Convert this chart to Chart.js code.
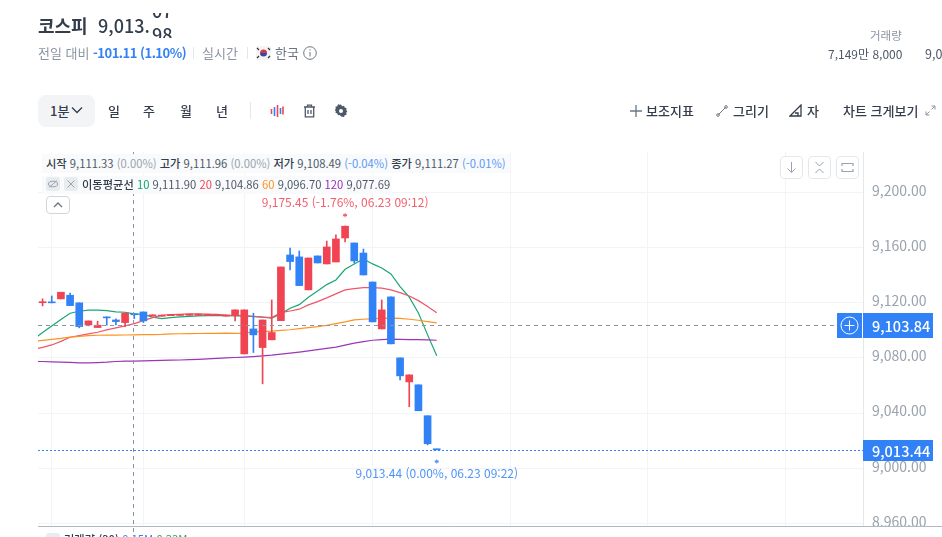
<!DOCTYPE html>
<html lang="ko">
<head>
<meta charset="utf-8">
<title>코스피</title>
<script src="https://cdn.jsdelivr.net/npm/chart.js@4"></script>
<style>
  html, body { margin: 0; padding: 0; background: #fff; }
  body { width: 942px; height: 537px; overflow: hidden; position: relative; font-family: "Noto Sans CJK KR", "Noto Sans", sans-serif; color: #333d4b; }
  canvas { position: absolute; left: 0; top: 0; }
  .t { position: absolute; white-space: nowrap; line-height: 1; }
  .box { position: absolute; box-sizing: border-box; }
  .gray { color: #8b95a1; }
  .blue { color: #3182f6; }
  .lg { font-size: 11.25px; color: #4e5968; }
  .lg i { font-style: normal; color: #9aa3ad; }
  .lg b { font-weight: 500; color: #333d4b; }
  .bar { position: absolute; background: #e5e8eb; width: 1px; }
  .tool { font-size: 13px; font-weight: 500; color: #333d4b; }
  svg { position: absolute; }
</style>
</head>
<body>
<canvas id="chart" width="942" height="570"></canvas>

<span class="t" style="left:38px;top:16px;font-size:18px;font-weight:700;">코스피</span>
<span class="t" style="left:98px;top:16px;font-size:18px;font-weight:500;">9,013.</span>
<div class="box" style="left:151px;top:13px;width:24px;height:25px;overflow:hidden;font-size:18px;font-weight:500;">
  <span class="t" style="left:1px;top:-12px;">07</span>
  <span class="t" style="left:1px;top:12px;">98</span>
</div>

<span class="t gray" style="left:38px;top:46px;font-size:13px;">전일 대비</span>
<span class="t blue" style="left:93px;top:46px;font-size:13px;font-weight:600;letter-spacing:-0.5px;">-101.11 (1.10%)</span>
<div class="bar" style="left:193px;top:47px;height:12px;"></div>
<span class="t gray" style="left:202px;top:46px;font-size:13px;">실시간</span>
<div class="bar" style="left:247px;top:47px;height:12px;"></div>
<svg style="left:256px;top:46px" width="15" height="14" viewBox="0 0 15 14">
  <rect width="15" height="14" fill="#f4f4f4" rx="2"/>
  <path d="M4 7a3.5 3.5 0 0 1 7 0z" fill="#e03048"/><path d="M4 7a3.5 3.5 0 0 0 7 0z" fill="#2a4fa0"/>
  <path d="M1 2l2 2M12 2l2 2M1 12l2-2M12 12l2-2" stroke="#333" stroke-width="1.2"/>
</svg>
<span class="t gray" style="left:275px;top:46px;font-size:13px;color:#6b7684;">한국</span>
<svg style="left:303px;top:46px" width="14" height="14" viewBox="0 0 14 14" fill="none" stroke="#6b7684">
  <circle cx="7" cy="7" r="6.3"/><path d="M7 6v4.5M7 3.4v1.2"/>
</svg>

<span class="t gray" style="left:870px;top:30px;font-size:11.5px;">거래량</span>
<span class="t" style="left:828px;top:48px;font-size:12px;color:#4e5968;">7,149만 8,000</span>
<span class="t" style="left:925px;top:48px;font-size:12.5px;color:#4e5968;">9,0</span>

<div class="box" style="left:38px;top:95px;width:57px;height:32px;background:#f2f4f6;border-radius:8px;"></div>
<span class="t tool" style="left:50px;top:104px;">1분</span>
<svg style="left:71px;top:106px" width="12" height="8" viewBox="0 0 12 8" fill="none" stroke="#333d4b" stroke-width="1.3"><path d="M1 1.5l5 5 5-5"/></svg>
<span class="t tool" style="left:108px;top:104px;">일</span>
<span class="t tool" style="left:143px;top:104px;">주</span>
<span class="t tool" style="left:180px;top:104px;">월</span>
<span class="t tool" style="left:216px;top:104px;">년</span>
<div class="bar" style="left:250px;top:102px;height:17px;"></div>
<svg style="left:270px;top:104px" width="14" height="14" viewBox="0 0 14 14" stroke-width="1.6" fill="none">
  <path d="M1.5 5v5" stroke="#f04452"/><path d="M4.5 3v9" stroke="#3182f6"/><path d="M7.5 1v12" stroke="#f04452"/><path d="M10.500 4v6" stroke="#3182f6"/><path d="M13 2.500v8" stroke="#f04452"/>
</svg>
<svg style="left:303px;top:104px" width="13" height="14" viewBox="0 0 13 14" fill="none" stroke="#4e5968" stroke-width="1.3">
  <path d="M1 3h11M4.5 3V1.2h4V3M2.3 3v9.8h8.4V3M5 6v4M8 6v4"/>
</svg>
<svg style="left:334px;top:104px" width="14" height="14" viewBox="0 0 14 14">
  <path d="M7 .6l1.2 1.7 2-.4.8 1.9 2 .7-.4 2 1.2 1.5-1.2 1.5.4 2-2 .7-.8 1.9-2-.4L7 13.4l-1.200-1.700-2 .4-.8-1.900-2-.7.4-2L.2 6.500l1.200-1.500-.4-2 2-.7.800-1.900 2 .4z" fill="#4e5968" transform="translate(0.5 0) scale(.93)"/>
  <circle cx="7" cy="7" r="2" fill="#fff"/>
</svg>

<svg style="left:630px;top:105px" width="12" height="12" viewBox="0 0 12 12" stroke="#6b7684" stroke-width="1.3"><path d="M6 0v12M0 6h12"/></svg>
<span class="t tool" style="left:646px;top:104px;">보조지표</span>
<svg style="left:716px;top:105px" width="12" height="12" viewBox="0 0 12 12" fill="none" stroke="#6b7684"><path d="M2.500 9.500l7-7"/><circle cx="2" cy="10" r="1.300"/><circle cx="10" cy="2" r="1.300"/></svg>
<span class="t tool" style="left:733px;top:104px;">그리기</span>
<svg style="left:789px;top:104px" width="14" height="13" viewBox="0 0 14 13" fill="none" stroke="#333d4b" stroke-width="1.300"><path d="M1 12L12 1v11zM9 12V9h-3"/></svg>
<span class="t tool" style="left:807px;top:104px;">자</span>
<span class="t tool" style="left:843px;top:104px;">차트 크게보기</span>
<svg style="left:925px;top:105px" width="11" height="11" viewBox="0 0 11 11" fill="none" stroke="#8b95a1"><path d="M6.500 1h3.500v3.500M10 1L6.500 4.500M4.500 10H1V6.500M1 10l3.500-3.500"/></svg>

<div class="box" style="left:42px;top:154px;width:468px;height:19px;background:#f9fafb;"></div>
<span class="t lg" style="left:46px;top:158px;"><b>시작</b> 9,111.33 <i>(0.00%)</i> <b>고가</b> 9,111.96 <i>(0.00%)</i> <b>저가</b> 9,108.49 <span class="blue" style="opacity:.8">(-0.04%)</span> <b>종가</b> 9,111.27 <span class="blue" style="opacity:.8">(-0.01%)</span></span>

<div class="box" style="left:42px;top:176px;width:350px;height:18px;background:#f9fafb;"></div>
<div class="box" style="left:46px;top:177px;width:14px;height:14px;background:#e9ecef;border-radius:3px;"></div>
<svg style="left:48px;top:180px" width="10" height="8" viewBox="0 0 10 8" fill="none" stroke="#9aa3ad"><ellipse cx="5" cy="4" rx="4.500" ry="2.800"/><path d="M1 7.500L9 .5"/></svg>
<div class="box" style="left:64px;top:177px;width:14px;height:14px;background:#e9ecef;border-radius:3px;"></div>
<svg style="left:67px;top:180px" width="8" height="8" viewBox="0 0 8 8" stroke="#9aa3ad"><path d="M.5 .5l7 7M7.500 .5l-7 7"/></svg>
<span class="t lg" style="left:82px;top:179px;"><b>이동평균선</b> <span style="color:#10a56d">10</span> 9,111.90 <span style="color:#f04452">20</span> 9,104.86 <span style="color:#ff9320">60</span> 9,096.70 <span style="color:#9c2fb8">120</span> 9,077.69</span>

<div class="box" style="left:46px;top:533px;width:14px;height:14px;background:#e9ecef;border-radius:3px;"></div>
<span class="t lg" style="left:64px;top:534px;"><b>거래량 (20)</b> <span class="blue">0.15M</span> <span style="color:#10a56d">0.33M</span></span>

<div class="box" style="left:46px;top:196px;width:24px;height:18px;border:1px solid #d1d6db;border-radius:4px;background:#fff;"></div>
<svg style="left:53px;top:202px" width="10" height="6" viewBox="0 0 10 6" fill="none" stroke="#6b7684" stroke-width="1.300"><path d="M1 5l4-4 4 4"/></svg>

<div class="box" style="left:780px;top:156px;width:23px;height:23px;border:1px solid #e5e8eb;border-radius:4px;background:#fff;"></div>
<svg style="left:786px;top:161px" width="11" height="13" viewBox="0 0 11 13" fill="none" stroke="#9aa3ad"><path d="M5.500 1v10M1.500 7.500l4 4 4-4"/></svg>
<div class="box" style="left:808px;top:156px;width:23px;height:23px;border:1px solid #e5e8eb;border-radius:4px;background:#fff;"></div>
<svg style="left:814px;top:161px" width="11" height="13" viewBox="0 0 11 13" fill="none" stroke="#9aa3ad"><path d="M1.500 1l4 4 4-4M1.500 12l4-4 4 4"/></svg>
<div class="box" style="left:836px;top:156px;width:23px;height:23px;border:1px solid #e5e8eb;border-radius:4px;background:#fff;"></div>
<svg style="left:841px;top:162px" width="13" height="11" viewBox="0 0 13 11" fill="none" stroke="#9aa3ad" stroke-width="1.200"><path d="M1 4V1.500h11V4M1 7v2.500h11V7"/></svg>

<script>
// one candle per minute, last one is 06.23 09:22
const times = ['15:10','15:11','15:12','15:13','15:14','15:15','15:16','15:17','15:18','15:19','15:20','15:21','15:22','15:23','15:24','15:25','15:26','15:27','15:28','15:29','15:30',
  '09:00','09:01','09:02','09:03','09:04','09:05','09:06','09:07','09:08','09:09','09:10','09:11','09:12','09:13','09:14','09:15','09:16','09:17','09:18','09:19','09:20','09:21','09:22'];

const opens = [9120.0,9120.6,9122.8,9125.4,9119.9,9103.9,9102.0,9109.7,9107.5,9105.6,9111.33,9113.3,9110.4,9110.2,9110.6,9110.8,9110.9,9110.9,9110.7,9110.6,9110.3,
  9110.7,9082.9,9101.0,9087.5,9093.1,9107.0,9154.6,9153.2,9129.3,9153.9,9148.1,9149.5,9166.9,9163.3,9156.0,9135.0,9101.0,9124.2,9080.0,9062.6,9060.5,9038.1,9013.9];
const highs = [9122.8,9124.9,9127.6,9126.9,9119.9,9106.8,9106.6,9109.7,9108.3,9112.4,9111.96,9113.3,9111.2,9111.0,9111.4,9111.6,9111.7,9111.7,9111.5,9111.4,9111.1,
  9114.8,9114.8,9112.4,9107.5,9122.0,9145.9,9159.5,9157.5,9152.4,9153.9,9164.7,9169.1,9175.45,9163.3,9158.9,9135.0,9122.0,9124.2,9080.0,9067.7,9060.5,9038.1,9013.9];
const lows = [9117.7,9119.9,9122.8,9117.9,9101.8,9103.2,9102.0,9103.7,9103.9,9102.7,9108.49,9105.6,9110.4,9110.2,9110.6,9110.8,9110.9,9110.9,9110.7,9110.6,9110.3,
  9106.8,9082.9,9083.9,9061.2,9093.1,9107.0,9143.8,9132.4,9129.3,9148.8,9148.1,9149.5,9164.0,9148.8,9140.1,9106.1,9101.0,9090.2,9064.1,9044.6,9041.7,9017.0,9013.44];
const closes = [9120.6,9119.9,9127.6,9117.9,9102.7,9106.8,9103.7,9109.0,9106.3,9112.4,9111.27,9106.8,9111.2,9111.0,9111.4,9111.6,9111.7,9111.7,9111.5,9111.4,9111.1,
  9114.8,9114.8,9096.7,9107.5,9098.4,9145.9,9149.8,9132.4,9152.4,9148.8,9160.4,9166.2,9175.45,9150.3,9140.1,9106.1,9114.8,9090.2,9067.0,9067.7,9041.7,9017.8,9013.44];

// moving averages start one slot before the first candle, cut off by the left edge
const ma10 = [9093.5,9098.4,9103.2,9107.8,9112.4,9113.8,9114.6,9114.6,9114.3,9113.3,9113.1,9111.9,9111.5,9109.5,9108.5,9109.2,9109.7,9110.1,9110.4,9110.6,9110.7,9110.7,
  9110.4,9110.4,9109.9,9109.5,9108.8,9111.9,9116.0,9118.6,9124.0,9128.5,9133.1,9136.5,9144.2,9148.1,9151.7,9148.1,9145.2,9140.8,9131.6,9124.0,9112.6,9096.7,9081.5];
const ma20 = [9086.2,9087.6,9089.4,9092.0,9095.0,9096.2,9097.4,9098.6,9100.3,9101.7,9103.2,9104.86,9107.0,9109.2,9110.9,9111.4,9111.6,9111.9,9111.9,9111.7,9111.5,9111.1,
  9110.9,9110.6,9110.2,9109.5,9109.2,9112.8,9114.0,9115.3,9118.4,9120.8,9123.5,9126.4,9129.3,9130.2,9130.9,9130.9,9130.5,9129.3,9127.3,9124.9,9121.5,9117.2,9112.8];
const ma60 = [9092.1,9092.7,9093.4,9094.1,9095.0,9095.6,9096.2,9096.4,9096.5,9096.5,9096.6,9096.7,9096.8,9096.9,9097.0,9097.4,9097.5,9097.6,9097.7,9097.8,9097.8,9097.9,
  9097.8,9097.9,9098.9,9099.1,9099.4,9099.9,9100.4,9101.2,9102.0,9102.7,9103.6,9104.9,9106.1,9107.5,9108.0,9108.5,9108.6,9108.8,9108.6,9108.0,9107.3,9106.3,9105.4];
const ma120 = [9077.4,9077.4,9077.1,9076.9,9076.7,9076.4,9076.4,9076.6,9076.9,9077.4,9077.6,9077.69,9077.9,9078.1,9078.2,9078.4,9078.5,9078.7,9079.0,9079.3,9079.7,9080.0,
  9080.3,9080.6,9081.0,9081.5,9082.0,9082.7,9083.4,9084.2,9085.1,9086.0,9086.9,9087.8,9089.2,9090.7,9091.8,9092.8,9093.2,9093.6,9093.4,9093.3,9093.2,9093.1,9092.8];

const yTicks = [8960, 9000, 9040, 9080, 9120, 9160, 9200];
const xGridSlots = [1, 11, 22, 36, 51, 66, 81];

const crosshairSlot = 10;
const crosshairPrice = 9103.84;
const lastPrice = 9013.44;
const highSlot = 33;
const lastSlot = 43;
const highLabel = '9,175.45 (-1.76%, 06.23 09:12)';
const lastLabel = '9,013.44 (0.00%, 06.23 09:22)';

const UP = '#f04452';
const DOWN = '#3182f6';

const money = v => v.toLocaleString('en-US', { minimumFractionDigits: 2, maximumFractionDigits: 2 });
const candleColors = opens.map((o, i) => closes[i] >= o ? UP : DOWN);
const maLine = (values, color) => ({
  type: 'line',
  data: values.map((y, i) => ({ x: i - 1, y: y })),
  borderColor: color,
  borderWidth: 1.2,
  pointRadius: 0,
  tension: 0,
  order: 2
});

// lines and price tags on top of the candles
const overlay = {
  id: 'overlay',
  afterDatasetsDraw(chart) {
    const { ctx, chartArea: area, scales: { x, y } } = chart;
    const hoverY = Math.round(y.getPixelForValue(crosshairPrice)) + 0.5;
    const lastY = Math.round(y.getPixelForValue(lastPrice)) + 0.5;
    const crossX = Math.round(x.getPixelForValue(crosshairSlot)) - 0.5;

    ctx.save();
    // the pane below hides the lower half of the last tick label
    ctx.clearRect(0, area.bottom, chart.width, chart.height - area.bottom);
    ctx.strokeStyle = '#b0b8c1';
    ctx.lineWidth = 1;
    ctx.beginPath();
    ctx.moveTo(area.left, area.bottom + 0.5);
    ctx.lineTo(942, area.bottom + 0.5);
    ctx.stroke();

    ctx.strokeStyle = '#8b95a1';
    ctx.setLineDash([4, 4]);
    ctx.beginPath();
    ctx.moveTo(crossX, area.top);
    ctx.lineTo(crossX, 532);
    ctx.moveTo(area.left, hoverY);
    ctx.lineTo(838, hoverY);
    ctx.stroke();

    ctx.strokeStyle = DOWN;
    ctx.setLineDash([2, 2]);
    ctx.beginPath();
    ctx.moveTo(area.left, lastY);
    ctx.lineTo(area.right, lastY);
    ctx.stroke();
    ctx.setLineDash([]);

    ctx.textAlign = 'center';
    ctx.textBaseline = 'middle';
    ctx.font = '12px "Noto Sans CJK KR", "Noto Sans", sans-serif';
    const highX = x.getPixelForValue(highSlot);
    const highY = y.getPixelForValue(highs[highSlot]);
    ctx.fillStyle = '#f2606e';
    ctx.fillText(highLabel, highX, highY - 24);
    ctx.fillRect(highX - 0.5, highY - 13, 1, 4);
    ctx.fillRect(highX - 2, highY - 12, 4, 2);
    const endX = x.getPixelForValue(lastSlot);
    ctx.fillStyle = '#4f94f7';
    ctx.fillText(lastLabel, endX, lastY + 23);
    ctx.fillRect(endX - 0.5, lastY + 9, 1, 4);
    ctx.fillRect(endX - 2, lastY + 10, 4, 2);

    // price tags
    ctx.fillStyle = DOWN;
    ctx.fillRect(837, hoverY - 12.5, 25, 25);
    ctx.fillRect(863, hoverY - 12.5, 70, 25);
    ctx.fillRect(863, lastY - 10.5, 70, 21);
    ctx.strokeStyle = '#fff';
    ctx.beginPath();
    ctx.arc(849.5, hoverY, 8.5, 0, Math.PI * 2);
    ctx.moveTo(844.5, hoverY);
    ctx.lineTo(854.5, hoverY);
    ctx.moveTo(849.5, hoverY - 5);
    ctx.lineTo(849.5, hoverY + 5);
    ctx.stroke();
    ctx.fillStyle = '#fff';
    ctx.textAlign = 'left';
    ctx.font = '500 14.5px "Noto Sans CJK KR", "Noto Sans", sans-serif';
    ctx.fillText(money(crosshairPrice), 872, hoverY + 0.5);
    ctx.fillText(money(lastPrice), 872, lastY + 0.5);
    ctx.restore();
  }
};

new Chart(document.getElementById('chart'), {
  type: 'bar',
  data: {
    datasets: [
      {
        data: times.map((t, i) => ({ x: i, y: [opens[i], closes[i]] })),
        backgroundColor: candleColors,
        barThickness: 7,
        minBarLength: 1,
        grouped: false,
        order: 0
      },
      {
        data: times.map((t, i) => ({ x: i, y: [lows[i], highs[i]] })),
        backgroundColor: candleColors,
        barThickness: 1,
        grouped: false,
        order: 1
      },
      maLine(ma120, '#9c36b5'),
      maLine(ma60, '#ff9320'),
      maLine(ma20, '#f0556a'),
      maLine(ma10, '#1aa673')
    ]
  },
  options: {
    responsive: false,
    animation: false,
    layout: { padding: { left: 38, top: 152, bottom: 44, right: 0 } },
    plugins: { legend: { display: false }, tooltip: { enabled: false } },
    scales: {
      x: {
        type: 'linear',
        min: -0.5,
        max: 89.5,
        offset: false,
        afterBuildTicks: axis => { axis.ticks = xGridSlots.map(v => ({ value: v })); },
        ticks: { display: false, autoSkip: false },
        grid: { color: '#f2f4f6', drawTicks: false, offset: false },
        border: { display: false }
      },
      y: {
        position: 'right',
        min: 8958.2,
        max: 9229.2,
        afterBuildTicks: axis => { axis.ticks = yTicks.map(v => ({ value: v })); },
        afterFit: axis => { axis.width = 79; },
        ticks: {
          padding: 9,
          labelOffset: -2,
          color: '#9aa3ad',
          font: { size: 14, family: '"Noto Sans CJK KR", "Noto Sans", sans-serif' },
          callback: v => money(v)
        },
        grid: { color: '#f2f4f6', drawTicks: false },
        border: { color: '#e5e8eb' }
      }
    }
  },
  plugins: [overlay]
});
</script>
</body>
</html>
